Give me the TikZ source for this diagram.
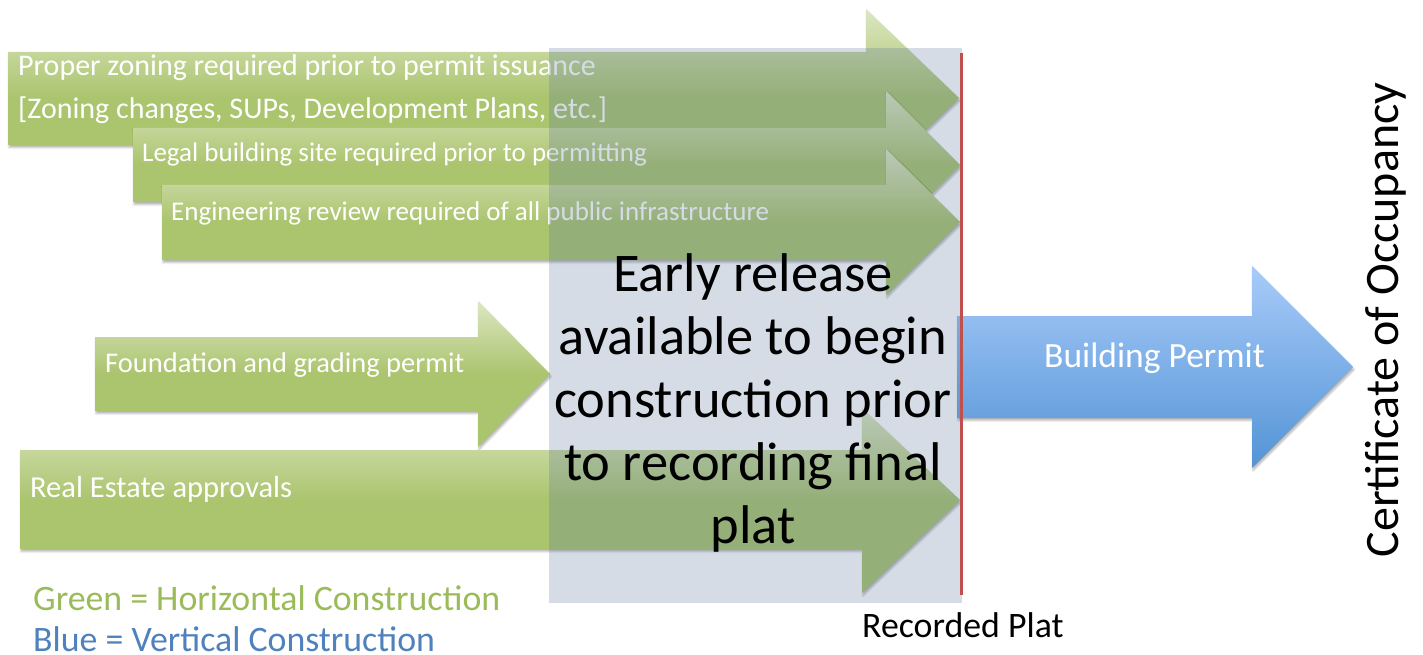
\documentclass[tikz,border=0pt]{standalone}
\usepackage{fontspec}
\setmainfont{Carlito}
\usetikzlibrary{shadows.blur}

\definecolor{gtop}{HTML}{DCE7C2}
\definecolor{gbase}{HTML}{ABC46E}
\definecolor{btop}{HTML}{A8CBF9}
\definecolor{bbot}{HTML}{5394D6}
\definecolor{veil}{RGB}{83,111,152}
\definecolor{platred}{HTML}{C0504D}
\definecolor{legendgreen}{HTML}{9BBB59}
\definecolor{legendblue}{HTML}{4F81BD}

\begin{document}
\begin{tikzpicture}[x=1pt,y=-1pt,
  arrowshadow/.style={blur shadow={shadow xshift=1pt,shadow yshift=-2.5pt,
      shadow blur radius=2pt,shadow opacity=30}},
  greenarrow/.style={arrowshadow,top color=gtop,bottom color=gbase,middle color=gbase},
  bluearrow/.style={arrowshadow,top color=btop,bottom color=bbot},
  arrowlabel/.style={text=white,anchor=base west,inner sep=0pt,
      font=\fontsize{28.5}{43}\selectfont,align=left},
  bigtext/.style={inner sep=0pt,font=\fontsize{54.5}{63}\selectfont,align=center},
  legend/.style={anchor=base west,inner sep=0pt,font=\fontsize{35.8}{40}\selectfont}
]
\useasboundingbox (0,0) rectangle (1423,655);

% horizontal construction steps (green block arrows)
\path[greenarrow] (8,52) -- (866,52) -- (866,9) -- (959,98) -- (866,187)
  -- (866,145) -- (8,145) -- cycle;
\path[greenarrow] (133,128) -- (886,128) -- (886,91) -- (960,165) -- (886,239)
  -- (886,202) -- (133,202) -- cycle;
\path[greenarrow] (162,185) -- (886,185) -- (886,149) -- (960,222) -- (886,295)
  -- (886,260) -- (162,260) -- cycle;
\path[greenarrow] (95,337) -- (478,337) -- (478,301) -- (550,374) -- (478,447)
  -- (478,411) -- (95,411) -- cycle;
\path[greenarrow] (20,450) -- (862,450) -- (862,408) -- (960,500) -- (862,593)
  -- (862,549) -- (20,549) -- cycle;

% vertical construction step (blue block arrow)
\path[bluearrow] (957,316) -- (1252,316) -- (1252,266) -- (1353,367) -- (1252,468)
  -- (1252,418) -- (957,418) -- cycle;

% labels inside the arrows (multi-line nodes sit on their last baseline)
\node[arrowlabel,font=\fontsize{30}{43}\selectfont] (zoning) at (18,119)
  {Proper zoning required prior to permit issuance\\
   {[}Zoning changes, SUPs, Development Plans, etc.{]}};
\node[arrowlabel,font=\fontsize{27}{40}\selectfont] (site) at (142,162) {Legal building site required prior to permitting};
\node[arrowlabel,font=\fontsize{27}{40}\selectfont] (engineering) at (171,220) {Engineering review required of all public infrastructure};
\node[arrowlabel] (foundation) at (105,372) {Foundation and grading permit};
\node[arrowlabel,font=\fontsize{30.5}{40}\selectfont] (realestate) at (30,497) {Real Estate approvals};
\node[arrowlabel,font=\fontsize{35.5}{40}\selectfont] (building) at (1044,367) {Building Permit};

% early-release window
\fill[veil,opacity=0.244] (549,48) rectangle (962,603);

% recorded plat milestone
\draw[platred,line width=3pt] (961,53) coordinate (plattop) -- (961,595) coordinate (platbot);

\node[bigtext,anchor=base] (early) at (753,543)
  {Early release\\available to begin\\construction prior\\to recording final\\plat};

\node[legend] (plat) at (862,637) {Recorded Plat};
\node[rotate=90,anchor=base,inner sep=0pt,font=\fontsize{48}{50}\selectfont] (occupancy)
  at (1398,320) {Certificate of Occupancy};

% legend
\node[legend,text=legendgreen] (lgreen) at (33,610) {Green = Horizontal Construction};
\node[legend,text=legendblue] (lblue) at (33,651) {Blue = Vertical Construction};
\end{tikzpicture}
\end{document}
